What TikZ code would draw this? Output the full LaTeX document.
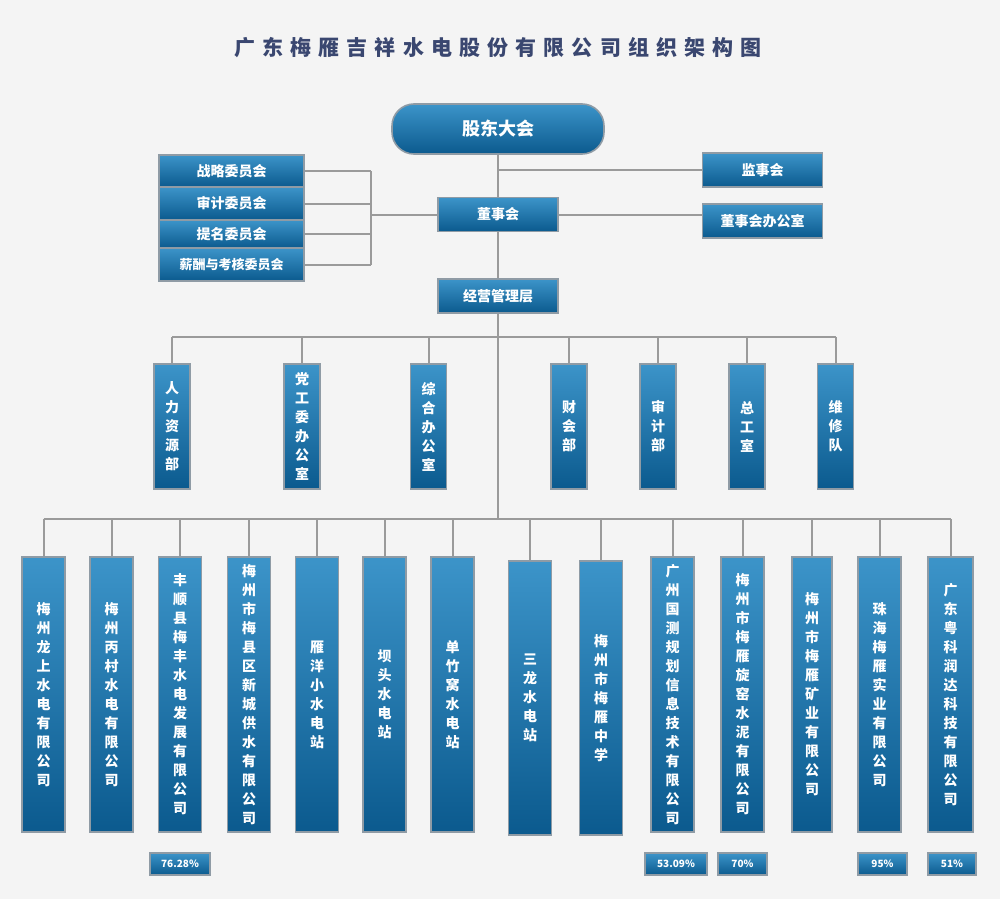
\documentclass[tikz,border=0pt]{standalone}
\usepackage{fontspec}
\setmainfont{Noto Sans CJK SC}
\usepackage{xcolor}
\usepackage{tikz}
\usetikzlibrary{positioning}
\XeTeXlinebreaklocale "zh"
\XeTeXlinebreakskip=0pt plus 1pt
\definecolor{bgc}{HTML}{F4F4F4}
\definecolor{boxtop}{HTML}{3C94C9}
\definecolor{boxbot}{HTML}{0B5A8E}
\definecolor{boxline}{HTML}{8F9BA5}
\definecolor{connc}{HTML}{9A9A9A}
\definecolor{titlec}{HTML}{3A4770}

\tikzset{
  orgbox/.style={draw=boxline, line width=1.6pt, top color=boxtop, bottom color=boxbot,
    text=white, inner sep=0pt, font=\bfseries\fontsize{14}{16}\selectfont},
  hbox/.style={orgbox, minimum width=120pt, minimum height=34pt},
  cbox/.style={orgbox, minimum width=145pt},
  dbox/.style={orgbox, minimum width=36pt, minimum height=125pt, text width=15pt,
    align=center, font=\bfseries\fontsize{14}{19}\selectfont},
  sbox/.style={orgbox, minimum width=43pt, minimum height=275pt, text width=15pt,
    align=center, font=\bfseries\fontsize{14}{19}\selectfont},
  pbox/.style={orgbox, minimum height=22pt, font=\bfseries\fontsize{10}{12}\selectfont},
  link/.style={draw=connc, line width=2pt}
}

\begin{document}
\begin{tikzpicture}[x=1pt, y=-1pt]
    % canvas
    \fill[bgc] (0,0) rectangle (1000,899);
    \node[font=\bfseries\fontsize{21}{24}\selectfont\addfontfeature{LetterSpace=34}, text=titlec] (title) at (498,48) {广东梅雁吉祥水电股份有限公司组织架构图};

    % top levels
    \node[orgbox, minimum width=212pt, minimum height=50pt, rounded corners=22pt,
      font=\bfseries\fontsize{18}{20}\selectfont] (gm) at (498,129) {股东大会};
    \node[hbox] (dsh) at (498,214.5) {董事会};
    \node[hbox] (jy) at (498,296) {经营管理层};
    \node[hbox] (jsh) at (762.5,170) {监事会};
    \node[hbox] (dshb) at (762.5,221) {董事会办公室};

    % committees
    \node[cbox, minimum height=32pt] (c1) at (231.5,171) {战略委员会};
    \node[cbox, minimum height=33pt] (c2) at (231.5,203.5) {审计委员会};
    \node[cbox, minimum height=28pt] (c3) at (231.5,234) {提名委员会};
    \node[cbox, minimum height=33pt, font=\bfseries\fontsize{13}{15}\selectfont] (c4) at (231.5,264.5) {薪酬与考核委员会};
    \coordinate (cj) at (371,214.5);

    \draw[link] (gm.south) -- (dsh.north);
    \draw[link] (dsh.south) -- (jy.north);
    \draw[link] (gm.south |- jsh.west) -- (jsh.west);
    \draw[link] (dsh.east) -- (dsh.east -| dshb.west);
    \draw[link] (c1.east) -- (c1.east -| cj);
    \draw[link] (c2.east) -- (c2.east -| cj);
    \draw[link] (c3.east) -- (c3.east -| cj);
    \draw[link] (c4.east) -- (c4.east -| cj);
    \draw[link] (c1.east -| cj) -- (c4.east -| cj);
    \draw[link] (cj) -- (dsh.west);

    % departments
    \node[dbox] (d1) at (172,426.5) {人力资源部};
    \node[dbox] (d2) at (302,426.5) {党工委办公室};
    \node[dbox] (d3) at (428.5,426.5) {综合办公室};
    \node[dbox] (d4) at (569,426.5) {财会部};
    \node[dbox] (d5) at (658,426.5) {审计部};
    \node[dbox] (d6) at (747,426.5) {总工室};
    \node[dbox] (d7) at (835.5,426.5) {维修队};
    \coordinate (bus1) at (498,337);

    \draw[link] (d1.north |- bus1) -- (d7.north |- bus1);
    \draw[link] (d1.north |- bus1) -- (d1.north);
    \draw[link] (d2.north |- bus1) -- (d2.north);
    \draw[link] (d3.north |- bus1) -- (d3.north);
    \draw[link] (d4.north |- bus1) -- (d4.north);
    \draw[link] (d5.north |- bus1) -- (d5.north);
    \draw[link] (d6.north |- bus1) -- (d6.north);
    \draw[link] (d7.north |- bus1) -- (d7.north);

    % subsidiaries
    \node[sbox] (s1) at (43.5,694.5) {梅州龙上水电有限公司};
    \node[sbox] (s2) at (111.5,694.5) {梅州丙村水电有限公司};
    \node[sbox] (s3) at (180,694.5) {丰顺县梅丰水电发展有限公司};
    \node[sbox] (s4) at (249,694.5) {梅州市梅县区新城供水有限公司};
    \node[sbox] (s5) at (317,694.5) {雁洋小水电站};
    \node[sbox] (s6) at (384.5,694.5) {坝头水电站};
    \node[sbox] (s7) at (452.5,694.5) {单竹窝水电站};
    \node[sbox, minimum height=274pt] (s8) at (530,698) {三龙水电站};
    \node[sbox, minimum height=274pt] (s9) at (601,698) {梅州市梅雁中学};
    \node[sbox] (s10) at (672.5,694.5) {广州国测规划信息技术有限公司};
    \node[sbox] (s11) at (742.5,694.5) {梅州市梅雁旋窑水泥有限公司};
    \node[sbox, minimum width=40pt] (s12) at (812,694.5) {梅州市梅雁矿业有限公司};
    \node[sbox] (s13) at (879.5,694.5) {珠海梅雁实业有限公司};
    \node[sbox, minimum width=45pt] (s14) at (950.5,694.5) {广东粤科润达科技有限公司};
    \coordinate (bus2) at (498,519);

    \draw[link] (jy.south) -- (jy.south |- bus2);
    \draw[link] (s1.north |- bus2) -- (s14.north |- bus2);
    \draw[link] (s1.north |- bus2) -- (s1.north);
    \draw[link] (s2.north |- bus2) -- (s2.north);
    \draw[link] (s3.north |- bus2) -- (s3.north);
    \draw[link] (s4.north |- bus2) -- (s4.north);
    \draw[link] (s5.north |- bus2) -- (s5.north);
    \draw[link] (s6.north |- bus2) -- (s6.north);
    \draw[link] (s7.north |- bus2) -- (s7.north);
    \draw[link] (s8.north |- bus2) -- (s8.north);
    \draw[link] (s9.north |- bus2) -- (s9.north);
    \draw[link] (s10.north |- bus2) -- (s10.north);
    \draw[link] (s11.north |- bus2) -- (s11.north);
    \draw[link] (s12.north |- bus2) -- (s12.north);
    \draw[link] (s13.north |- bus2) -- (s13.north);
    \draw[link] (s14.north |- bus2) -- (s14.north);

    % shareholdings
    \node[pbox, minimum width=60pt] (p3) at (180,864) {76.28\%};
    \node[pbox, minimum width=62pt] (p10) at (676,864) {53.09\%};
    \node[pbox, minimum width=49pt] (p11) at (742.5,864) {70\%};
    \node[pbox, minimum width=49pt] (p13) at (882.5,864) {95\%};
    \node[pbox, minimum width=48pt] (p14) at (952,864) {51\%};
\end{tikzpicture}
\end{document}
